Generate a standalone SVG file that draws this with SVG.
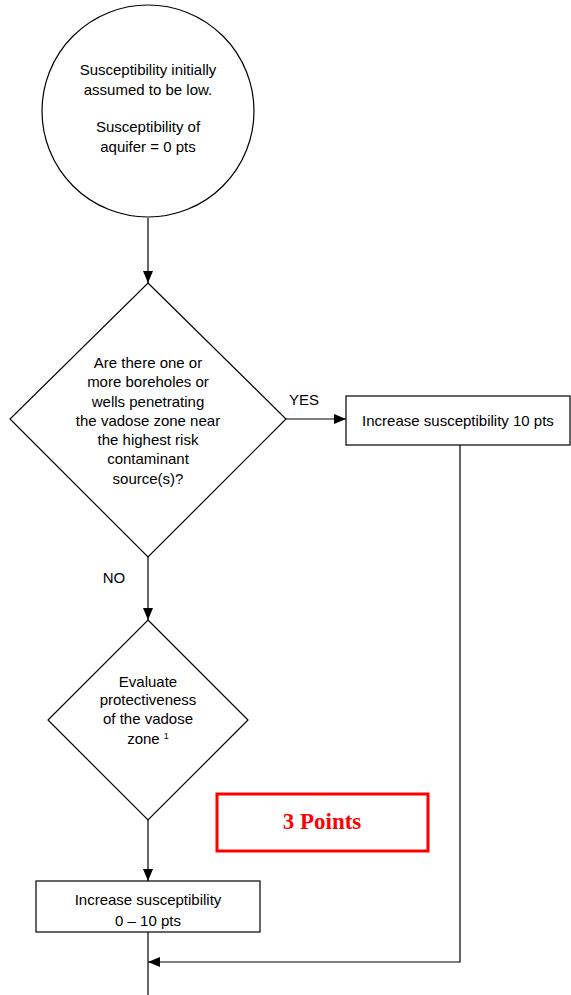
<svg xmlns="http://www.w3.org/2000/svg" width="571" height="995" viewBox="0 0 571 995">
<style>
.s{fill:#fff;stroke:#000;stroke-width:1.2}
.t{font-family:"Liberation Sans",Arial,sans-serif;font-size:15px;fill:#000;text-anchor:middle}
.c{fill:none;stroke:#000;stroke-width:1.2}
</style>
<defs>
<marker id="ah" markerWidth="12" markerHeight="10" refX="12" refY="5" orient="auto" markerUnits="userSpaceOnUse">
<path d="M0,0 L12,5 L0,10 Z" fill="#000"/>
</marker>
</defs>
<g id="connectors">
<line class="c" x1="148" y1="218" x2="148" y2="283" marker-end="url(#ah)"/>
<line class="c" x1="286" y1="419" x2="346" y2="419" marker-end="url(#ah)"/>
<line class="c" x1="148" y1="557" x2="148" y2="620" marker-end="url(#ah)"/>
<line class="c" x1="148" y1="820" x2="148" y2="881" marker-end="url(#ah)"/>
<polyline class="c" points="460,445 460,962 148,962" marker-end="url(#ah)"/>
<line class="c" x1="148" y1="932" x2="148" y2="995"/>
<text class="t" x="304" y="405">YES</text>
<text class="t" x="114" y="583">NO</text>
</g>
<g id="start">
<circle class="s" cx="148" cy="111" r="106"/>
<text class="t" x="148" y="75">Susceptibility initially</text>
<text class="t" x="148" y="95">assumed to be low.</text>
<text class="t" x="148" y="132">Susceptibility of</text>
<text class="t" x="148" y="152">aquifer = 0 pts</text>
</g>
<g id="decision1">
<polygon class="s" points="148,283 286,419 148,557 10,419"/>
<text class="t" x="148" y="368">Are there one or</text>
<text class="t" x="148" y="387">more boreholes or</text>
<text class="t" x="148" y="407">wells penetrating</text>
<text class="t" x="148" y="426">the vadose zone near</text>
<text class="t" x="148" y="445">the highest risk</text>
<text class="t" x="148" y="464">contaminant</text>
<text class="t" x="148" y="484">source(s)?</text>
</g>
<g id="yesbox">
<rect class="s" x="346" y="396" width="224" height="49"/>
<text class="t" x="458" y="426">Increase susceptibility 10 pts</text>
</g>
<g id="decision2">
<polygon class="s" points="148,620 248,720 148,820 48,720"/>
<text class="t" x="148" y="687">Evaluate</text>
<text class="t" x="148" y="705">protectiveness</text>
<text class="t" x="148" y="724">of the vadose</text>
<text class="t" x="148" y="744">zone <tspan font-size="9" dy="-5">1</tspan></text>
</g>
<g id="nobox">
<rect class="s" x="36" y="881" width="224" height="51"/>
<text class="t" x="148" y="905">Increase susceptibility</text>
<text class="t" x="148" y="926">0 – 10 pts</text>
</g>
<g id="points">
<rect x="217" y="794" width="211" height="57" fill="#fff" stroke="#f00" stroke-width="3"/>
<text x="322" y="829" font-family="'Liberation Serif','Times New Roman',serif" font-weight="bold" font-size="23" fill="#f00" text-anchor="middle">3 Points</text>
</g>
</svg>
